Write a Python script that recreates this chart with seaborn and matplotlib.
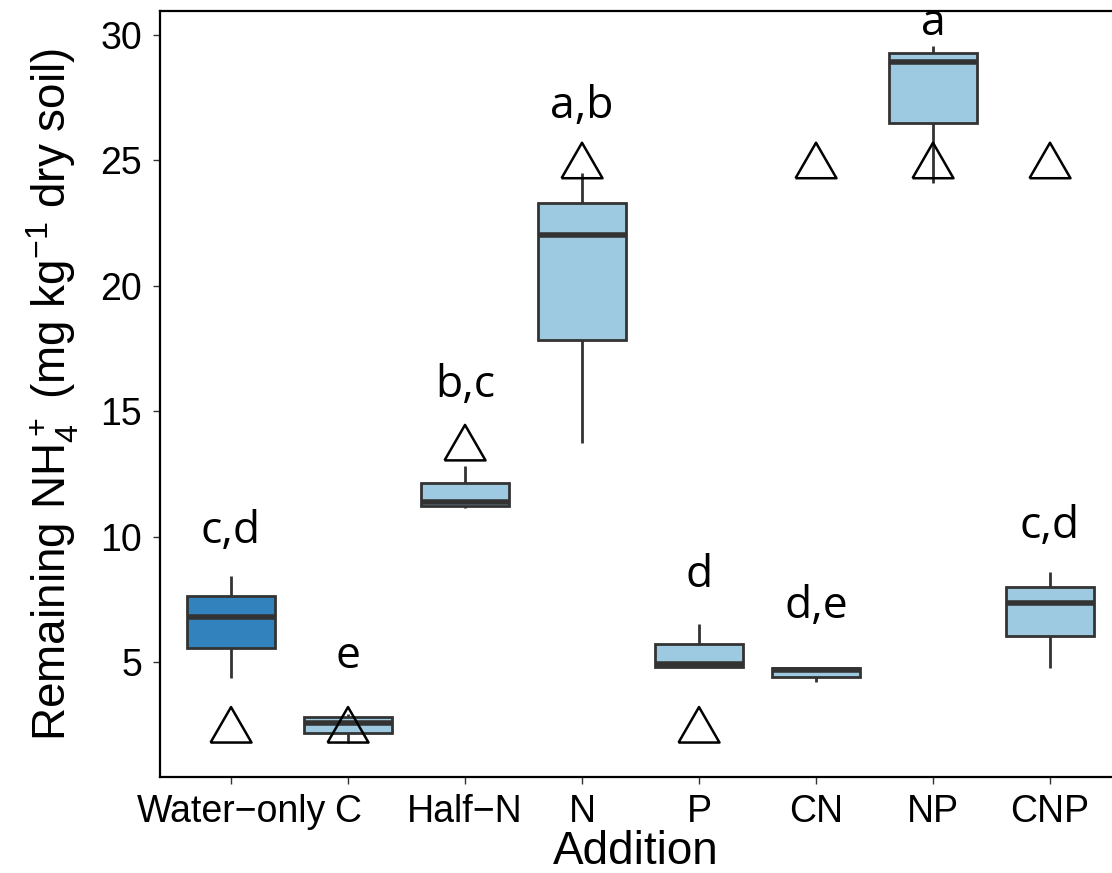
import numpy as np
import pandas as pd
import matplotlib
matplotlib.use("Agg")
import matplotlib.pyplot as plt
import seaborn as sns

# Treatments on the x axis
categories = ["Water\u2212only", "C", "Half\u2212N", "N", "P", "CN", "NP", "CNP"]

# Replicate readings of remaining NH4+ (mg/kg dry soil)
water_only = [4.38, 5.58, 6.81, 7.65, 8.45]
c_add = [1.79, 2.19, 2.59, 2.83, 2.95]
half_n = [11.16, 11.24, 11.39, 12.15, 12.83]
n_add = [13.75, 17.85, 22.03, 23.31, 24.50]
p_add = [4.80, 4.82, 4.94, 5.74, 6.53]
cn_add = [4.22, 4.42, 4.68, 4.78, 4.82]
np_add = [24.10, 26.49, 28.92, 29.28, 29.56]
cnp_add = [4.78, 6.06, 7.37, 8.01, 8.61]

# Amount of NH4+ added (open triangles)
added = [2.5, 2.5, 13.75, 25.0, 2.5, 25.0, 25.0, 25.0]

# Significance letters and where they sit
letters = ["c,d", "e", "b,c", "a,b", "d", "d,e", "a", "c,d"]
letter_y = [9.76, 4.78, 15.58, 26.69, 8.0, 6.77, 30.0, 9.96]

yticks = [5, 10, 15, 20, 25, 30]

groups = [water_only, c_add, half_n, n_add, p_add, cn_add, np_add, cnp_add]
rows = []
for cat, vals in zip(categories, groups):
    for v in vals:
        rows.append({"Addition": cat, "NH4": v})
df = pd.DataFrame(rows)

sns.set_style("white")
plt.rcParams.update(
    {
        "font.family": ["Liberation Sans", "DejaVu Sans"],
        "mathtext.fontset": "custom",
        "mathtext.rm": "Liberation Sans",
        "mathtext.it": "Liberation Sans:italic",
        "mathtext.bf": "Liberation Sans:bold",
        "axes.labelcolor": "black",
        "text.color": "black",
    }
)

palette = {cat: "#9ecae1" for cat in categories}
palette[categories[0]] = "#3182bd"

fig = plt.figure(figsize=(11.12, 8.73), dpi=100)
ax = fig.add_axes([0.1439, 0.110, 0.8561, 0.8774])

sns.boxplot(
    data=df,
    x="Addition",
    y="NH4",
    hue="Addition",
    order=categories,
    hue_order=categories,
    palette=palette,
    legend=False,
    width=0.75,
    linecolor="#333333",
    linewidth=2.0,
    showcaps=False,
    saturation=1,
    medianprops={"linewidth": 4.0, "color": "#333333"},
    ax=ax,
)

# equilateral open triangle, like ggplot shape 2
tri = [(-1.0, -0.866), (1.0, -0.866), (0.0, 0.866), (-1.0, -0.866)]
sns.scatterplot(
    x=categories,
    y=added,
    marker=tri,
    s=29.5 ** 2,
    color="black",
    linewidth=1.8,
    ax=ax,
    zorder=5,
)
ax.collections[-1].set_facecolor("none")
ax.collections[-1].set_edgecolor("black")

for i, (lab, ly) in enumerate(zip(letters, letter_y)):
    ax.text(
        i, ly, lab, ha="center", va="baseline",
        fontsize=32, family=["Open Sans", "DejaVu Sans"], color="black",
    )

ax.set_xlim(-0.607, 7.53)
ax.set_ylim(0.42, 30.96)
ax.set_yticks(yticks)
ax.set_yticklabels([str(t) for t in yticks])

for side in ["left", "bottom", "top"]:
    ax.spines[side].set_visible(True)
    ax.spines[side].set_color("black")
    ax.spines[side].set_linewidth(1.6)
ax.spines["right"].set_visible(False)

ax.tick_params(
    axis="both", which="major", direction="out", length=5, width=1.0,
    color="#333333", labelsize=27, labelcolor="black", left=True, bottom=True,
)
ax.tick_params(axis="y", pad=8)
ax.tick_params(axis="x", pad=7)

ax.set_xlabel("Addition", fontsize=33, labelpad=0, color="black")
ax.set_ylabel(r"Remaining NH$_4^+$ (mg kg$^{-1}$ dry soil)", fontsize=33,
              labelpad=14, color="black")

fig.savefig("out.png", dpi=100)
